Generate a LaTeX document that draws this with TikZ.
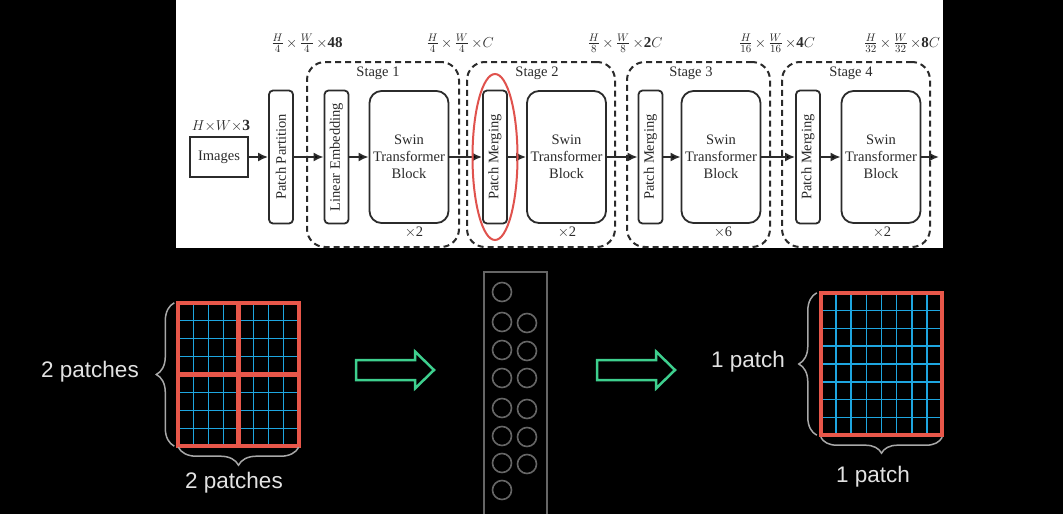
\documentclass[tikz,border=0pt]{standalone}
\usepackage{fontspec}
\setmainfont{Liberation Serif}
\newfontfamily\labelsans{Liberation Sans}
\usepackage{tikz}
\usetikzlibrary{shapes.geometric,arrows.meta,decorations.pathreplacing,calc}

\definecolor{ink}{HTML}{2B2B2B}
\definecolor{patchred}{HTML}{E8574A}
\definecolor{ringred}{HTML}{E0524D}
\definecolor{gridblue}{HTML}{1EA6E0}
\definecolor{mint}{HTML}{3ECF8E}
\definecolor{tokengray}{HTML}{666666}
\definecolor{bracegray}{HTML}{A8A8A8}
\definecolor{labelgray}{HTML}{E2E2E2}

\begin{document}
\begin{tikzpicture}[x=1pt, y=-1pt,
  blocktext/.style={text=ink, font=\fontsize{14.5}{17}\selectfont},
  inputbox/.style={draw=ink, line width=1.8pt, minimum width=58pt, minimum height=40pt, inner sep=0pt, blocktext},
  slimblock/.style={draw=ink, line width=1.8pt, rounded corners=4pt, rotate=90, minimum width=133pt, minimum height=24pt, inner sep=0pt, blocktext},
  swinblock/.style={draw=ink, line width=1.8pt, rounded corners=12pt, minimum width=79pt, minimum height=132pt, inner sep=0pt, align=center, blocktext},
  stagebox/.style={draw=ink, line width=2pt, dash pattern=on 6pt off 4pt, rounded corners=18pt, minimum height=185pt, inner sep=0pt},
  dimlabel/.style={text=ink, font=\fontsize{15}{18}\selectfont},
  flow/.style={-{Latex[length=10pt,width=9pt]}, draw=ink, line width=1.8pt},
  focusring/.style={draw=ringred, line width=2pt, ellipse, minimum width=45pt, minimum height=166pt, inner sep=0pt},
  patchspace/.style={minimum width=120pt, minimum height=143pt, inner sep=0pt},
  gridline/.style={draw=gridblue, line width=1.5pt},
  frameline/.style={draw=patchred, line width=4pt},
  bracemark/.style={decorate, decoration={brace, amplitude=18pt}, draw=bracegray, line width=1.5pt},
  sidelabel/.style={text=labelgray, font=\labelsans\fontsize{22.5}{27}\selectfont},
  hollowarrow/.style={draw=mint, line width=2.5pt, line join=miter},
  token/.style={circle, draw=tokengray, line width=1.6pt, minimum size=19pt, inner sep=0pt}]

\useasboundingbox (0,0) rectangle (1063,514);
\fill[black] (0,0) rectangle (1063,514);
\fill[white] (176,0) rectangle (943,248);

% stages
\node[stagebox, minimum width=152pt] at (383,154.5) (st1){};
\node[stagebox, minimum width=148pt] at (541,154.5) (st2){};
\node[stagebox, minimum width=143pt] at (698.5,154.5) (st3){};
\node[stagebox, minimum width=148pt] at (856,154.5) (st4){};
\node[blocktext] at (378,73) (st1name){Stage 1};
\node[blocktext] at (537,73) (st2name){Stage 2};
\node[blocktext] at (691,73) (st3name){Stage 3};
\node[blocktext] at (851,73) (st4name){Stage 4};
\node[blocktext] at (414,232) (rep1){$\times$2};
\node[blocktext] at (567,232) (rep2){$\times$2};
\node[blocktext] at (723,232) (rep3){$\times$6};
\node[blocktext] at (882,232) (rep4){$\times$2};

% blocks
\node[inputbox] at (219,157) (images){Images};
\node[blocktext, font=\fontsize{15.5}{18}\selectfont] at (221,126) (insize){$H{\times}W{\times}\mathbf{3}$};
\node[slimblock] at (281,157) (pp){Patch Partition};
\node[slimblock] at (336.5,157) (le){Linear Embedding};
\node[swinblock] at (409,157) (swin1){Swin\\Transformer\\Block};
\node[slimblock] at (495,157) (pm2){Patch Merging};
\node[swinblock] at (566.5,157) (swin2){Swin\\Transformer\\Block};
\node[slimblock] at (650.5,157) (pm3){Patch Merging};
\node[swinblock] at (721,157) (swin3){Swin\\Transformer\\Block};
\node[slimblock] at (808,157) (pm4){Patch Merging};
\node[swinblock] at (881,157) (swin4){Swin\\Transformer\\Block};
\coordinate (out) at (939,157);
\path[flow]
    (images) edge (pp)
    (pp) edge (le)
    (le) edge (swin1)
    (swin1) edge (pm2)
    (pm2) edge (swin2)
    (swin2) edge (pm3)
    (pm3) edge (swin3)
    (swin3) edge (pm4)
    (pm4) edge (swin4)
    (swin4) edge (out);
\node[focusring] at (pm2) (pmring){};

% sizes
\node[dimlabel] at (307,43) (dim1){$\frac{H}{4}\,{\times}\,\frac{W}{4}\,{\times}\mathbf{48}$};
\node[dimlabel] at (460,43) (dim2){$\frac{H}{4}\,{\times}\,\frac{W}{4}\,{\times}C$};
\node[dimlabel] at (625,43) (dim3){$\frac{H}{8}\,{\times}\,\frac{W}{8}\,{\times}\mathbf{2}C$};
\node[dimlabel] at (777,43) (dim4){$\frac{H}{16}\,{\times}\,\frac{W}{16}\,{\times}\mathbf{4}C$};
\node[dimlabel] at (902,43) (dim5){$\frac{H}{32}\,{\times}\,\frac{W}{32}\,{\times}\mathbf{8}C$};

% patches
\node[patchspace] at (238.5,374.5) (gridL){};
\node[patchspace, minimum width=121pt, minimum height=142pt] at (881.5,364) (gridR){};
\foreach \g in {gridL,gridR} {
  \foreach \i in {1,...,7} {
    \draw[gridline] ($(\g.north west)!\i/8!(\g.north east)$) -- ($(\g.south west)!\i/8!(\g.south east)$);
    \draw[gridline] ($(\g.north west)!\i/8!(\g.south west)$) -- ($(\g.north east)!\i/8!(\g.south east)$);
  }
  \draw[frameline] (\g.north west) rectangle (\g.south east);
}
\draw[frameline, line width=4.5pt] (gridL.north) -- (gridL.south) (gridL.west) -- (gridL.east);

\draw[bracemark] ([xshift=-4pt]gridL.south west) -- ([xshift=-4pt]gridL.north west);
\draw[bracemark] ([yshift=-1pt]gridL.south east) -- ([yshift=-1pt]gridL.south west);
\draw[bracemark] ([xshift=-4pt]gridR.south west) -- ([xshift=-4pt]gridR.north west);
\draw[bracemark, decoration={amplitude=16pt}] ([yshift=-2pt]gridR.south east) -- ([yshift=-2pt]gridR.south west);
\node[sidelabel] at (90,372) (rowsL){2 patches};
\node[sidelabel] at (234,483) (colsL){2 patches};
\node[sidelabel] at (748,362) (rowsR){1 patch};
\node[sidelabel] at (873,477) (colsR){1 patch};

% merge
\foreach \ax/\nm in {395/arrA,636/arrB} {
  \coordinate (\nm) at (\ax,370);
  \draw[hollowarrow] (\ax-39,360) -- (\ax+20,360) -- (\ax+20,351.5) -- (\ax+39,370)
    -- (\ax+20,388.5) -- (\ax+20,380) -- (\ax-39,380) -- cycle;
}
\node[draw=tokengray, line width=1.5pt, minimum width=63pt, minimum height=250pt, inner sep=0pt] at (515.5,397) (column){};
\foreach \ty [count=\k] in {292,322,350,378,408,436,463,490}
  \node[token] at (502,\ty) (tokL\k){};
\foreach \ty [count=\k from 2] in {323,351,378,409,437,464}
  \node[token] at (527,\ty) (tokR\k){};

\end{tikzpicture}
\end{document}
